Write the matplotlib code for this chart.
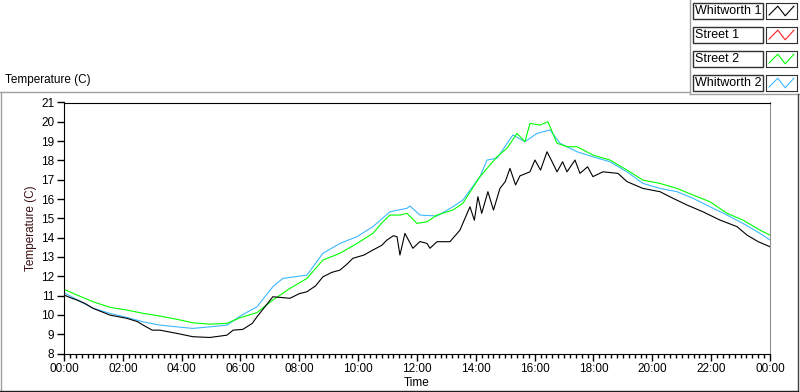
import matplotlib.pyplot as plt
from matplotlib.lines import Line2D
from matplotlib.patches import Rectangle

# hours since midnight, temperature in C
whitworth1_t = [0, 0.2, 0.44, 0.7, 0.99, 1.3, 1.56, 2.14, 2.5, 2.69, 3.0, 3.26, 3.84, 4.38, 4.96,
                5.3, 5.54, 5.75, 6.08, 6.4, 6.56, 7.1, 7.4, 7.68, 8.0, 8.26, 8.55, 8.8, 9.1, 9.38,
                9.6, 9.82, 10.2, 10.5, 10.8, 10.98, 11.2, 11.32, 11.42, 11.59, 11.86, 12.1, 12.34,
                12.44, 12.68, 13.12, 13.46, 13.8, 13.95, 14.07, 14.2, 14.41, 14.6, 14.82, 15.0,
                15.16, 15.35, 15.5, 15.84, 16.01, 16.2, 16.42, 16.62, 16.76, 16.95, 17.1, 17.37,
                17.54, 17.8, 17.98, 18.32, 18.83, 19.14, 19.68, 20.26, 20.7, 21.18, 21.72, 22.3,
                22.88, 23.22, 23.6, 24]
whitworth1 = [11.03, 10.9, 10.77, 10.6, 10.34, 10.15, 9.99, 9.82, 9.65, 9.47, 9.21, 9.21, 9.04, 8.87, 8.83,
              8.9, 8.95, 9.21, 9.25, 9.56, 9.9, 10.94, 10.9, 10.86, 11.1, 11.2, 11.5, 11.97, 12.2, 12.32,
              12.6, 12.93, 13.1, 13.36, 13.6, 13.88, 14.1, 14.05, 13.1, 14.22, 13.45, 13.8, 13.7,
              13.45, 13.79, 13.79, 14.39, 15.6, 14.9, 16.12, 15.26, 16.38, 15.43, 16.55, 16.9,
              17.59, 16.73, 17.2, 17.41, 18.02, 17.5, 18.45, 17.85, 17.41, 17.93, 17.41, 18.02,
              17.33, 17.67, 17.16, 17.41, 17.33, 16.9, 16.55, 16.38, 16.04, 15.69, 15.34, 14.91,
              14.57, 14.13, 13.79, 13.53]

street1_t = []
street1 = []

street2_t = [0, 0.44, 0.99, 1.56, 2.14, 2.69, 3.26, 3.84, 4.38, 4.96, 5.54, 5.98, 6.56, 7.1, 7.68,
             8.26, 8.8, 9.38, 9.96, 10.5, 10.84, 11.08, 11.42, 11.66, 12.0, 12.34, 12.68, 13.22,
             13.56, 14.14, 14.72, 15.06, 15.4, 15.67, 15.84, 16.18, 16.45, 16.76, 17.1, 17.44,
             17.98, 18.56, 19.14, 19.68, 20.26, 20.84, 21.38, 21.96, 22.54, 23.08, 23.66, 24]
street2 = [11.32, 11.03, 10.68, 10.39, 10.25, 10.08, 9.94, 9.77, 9.59, 9.52, 9.56, 9.85, 10.12, 10.77, 11.37,
           11.89, 12.84, 13.19, 13.70, 14.22, 14.82, 15.17, 15.17, 15.26, 14.74, 14.82, 15.17, 15.43,
           15.78, 17.16, 18.19, 18.63, 19.40, 18.97, 19.92, 19.83, 20.0, 18.89, 18.71, 18.71,
           18.28, 18.02, 17.5, 16.98, 16.81, 16.55, 16.21, 15.86, 15.26, 14.91, 14.39, 14.13]

whitworth2_t = [0, 0.99, 1.56, 2.14, 2.69, 3.26, 3.84, 4.38, 4.96, 5.54, 6.0, 6.56, 7.1, 7.44, 8.26,
                8.8, 9.38, 9.96, 10.5, 11.08, 11.66, 11.76, 12.1, 12.68, 13.22, 13.56, 14.14, 14.38,
                14.72, 15.26, 15.67, 16.08, 16.52, 16.86, 17.44, 17.98, 18.56, 19.14, 19.68, 20.26,
                20.84, 21.38, 21.96, 22.54, 23.08, 23.66, 24]
whitworth2 = [11.15, 10.34, 10.08, 9.87, 9.64, 9.47, 9.38, 9.30, 9.38, 9.47, 9.95, 10.42, 11.46, 11.89, 12.06,
              13.19, 13.7, 14.05, 14.57, 15.34, 15.52, 15.64, 15.17, 15.12, 15.6, 15.95, 17.16, 18.02,
              18.11, 19.32, 18.97, 19.40, 19.58, 18.89, 18.45, 18.19, 17.93, 17.41, 16.81, 16.55,
              16.38, 16.04, 15.6, 15.17, 14.74, 14.22, 13.88]

names = ['Whitworth 1', 'Street 1', 'Street 2', 'Whitworth 2']
colors = ['#000000', '#ff2020', '#00ff00', '#3cb8ff']

plt.rcParams['font.family'] = ['Liberation Sans', 'DejaVu Sans']

W, H = 800, 392
fig = plt.figure(figsize=(8, 3.92), dpi=100)
fs = 8.5

# outer frame of the graph
fig.add_artist(Line2D([1 / W, 1 / W], [0, 1 - 92 / H], color='#a0a0a0', lw=1))
fig.add_artist(Line2D([0, 690 / W], [1 - 92 / H, 1 - 92 / H], color='#a0a0a0', lw=1))
fig.add_artist(Line2D([690 / W, 1], [1 - 94 / H, 1 - 94 / H], color='#a0a0a0', lw=1))
fig.add_artist(Line2D([690 / W, 690 / W], [1 - 94 / H, 1], color='#a0a0a0', lw=1))
fig.add_artist(Line2D([798 / W, 798 / W], [1 / H, 1 - 94 / H], color='#404040', lw=1))
fig.add_artist(Line2D([0, 798 / W], [1 / H, 1 / H], color='#202020', lw=1))

fig.text(5 / W, 1 - 80 / H, 'Temperature (C)', fontsize=fs, va='center', ha='left')

ax = fig.add_axes([64 / W, 1 - 353.5 / H, (770 - 64) / W, (353.5 - 102.5) / H])
series = [(whitworth2_t, whitworth2, 3), (street2_t, street2, 2),
          (street1_t, street1, 1), (whitworth1_t, whitworth1, 0)]
for t, v, i in series:
    ax.plot(t, v, color=colors[i], lw=0.8)

ax.set_xlim(0, 24)
ax.set_ylim(8, 21)
ax.set_yticks(range(8, 22))
ax.set_xticks(range(0, 25, 2))
ax.set_xticklabels(['%02d:00' % (h % 24) for h in range(0, 25, 2)])
ax.set_xticks([i * 0.2 for i in range(121)], minor=True)
ax.tick_params(axis='both', which='major', direction='out', length=5, width=1, labelsize=fs, pad=2)
ax.tick_params(axis='x', which='minor', direction='out', length=3, width=1)
ax.tick_params(axis='y', which='minor', length=0)
for s in ['left', 'bottom', 'top']:
    ax.spines[s].set_color('black')
ax.spines['right'].set_color('#909090')
ax.set_xlabel('Time', fontsize=fs, labelpad=1)
ax.set_ylabel('Temperature (C)', fontsize=fs, color='#3a1010', labelpad=3)

# legend: name boxes plus swatches
for i, name in enumerate(names):
    top = 3 + i * 24
    fig.add_artist(Rectangle((693 / W, 1 - (top + 16) / H), 70 / W, 16 / H,
                             fill=False, ec='#303030', lw=1))
    fig.text(695 / W, 1 - (top + 8) / H, name, fontsize=fs + 0.5, va='center', ha='left')
    sw = fig.add_axes([766 / W, 1 - (top + 16) / H, 31 / W, 16 / H])
    sw.plot([0.1, 0.38, 0.62, 0.9], [0.25, 0.8, 0.2, 0.8], color=colors[i], lw=0.8)
    sw.set_xlim(0, 1)
    sw.set_ylim(0, 1)
    sw.set_xticks([])
    sw.set_yticks([])
    for s in sw.spines.values():
        s.set_color('#303030')

fig.savefig('out.png', dpi=100)
